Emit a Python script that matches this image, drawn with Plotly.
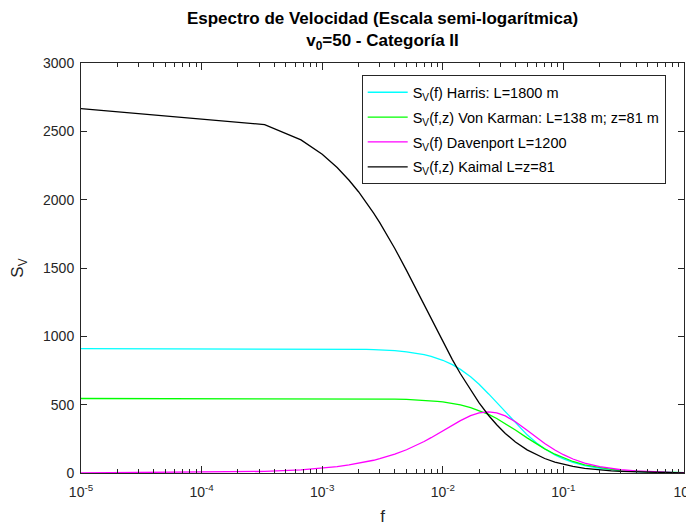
import plotly.graph_objects as go

# Frequency samples (Hz)
f = [1e-5, 3.33e-4, 6.67e-4, 1.0e-3, 1.33e-3, 1.67e-3, 2.0e-3, 2.33e-3, 2.67e-3, 3.0e-3,
     3.5e-3, 4.0e-3, 5.0e-3, 6.0e-3, 7.0e-3, 8.0e-3, 9.0e-3, 1.0e-2, 1.2e-2, 1.4e-2,
     1.7e-2, 2.0e-2, 2.4e-2, 2.8e-2, 3.3e-2, 4.0e-2, 5.0e-2, 6.0e-2, 7.0e-2, 8.5e-2,
     0.10, 0.12, 0.15, 0.20, 0.25, 0.30, 0.40, 0.50, 0.65, 0.80, 1.00]

harris = [910, 909.9, 909.6, 909.1, 908.3, 907.4, 906.2, 904.9, 903.3, 901.6,
          898.5, 895.1, 887.0, 877.2, 866.0, 853.5, 839.7, 824.9, 792.7, 758.1,
          704.0, 649.0, 578.6, 514.6, 444.3, 364.0, 279.2, 219.7, 177.0, 133.1,
          103.9, 78.1, 54.7, 34.3, 23.8, 17.6, 10.9, 7.5, 4.9, 3.5, 2.4]

von_karman = [545, 545, 544.9, 544.7, 544.5, 544.3, 543.9, 543.6, 543.1, 542.6,
              541.8, 540.8, 538.4, 535.6, 532.3, 528.6, 524.4, 519.8, 509.5, 497.9,
              478.5, 457.3, 428.8, 398.8, 361.3, 314.2, 257.2, 212.0, 176.7, 137.4,
              109.9, 84.2, 59.9, 38.1, 26.6, 19.8, 12.3, 8.5, 5.5, 3.9, 2.7]

davenport = [0.35, 11.7, 23.5, 35.2, 46.8, 58.7, 70.1, 81.5, 93.2, 104.5,
             121.3, 137.9, 170.2, 201.2, 230.7, 258.4, 284.3, 308.2, 350.0, 383.6,
             419.5, 439.7, 447.7, 440.0, 417.4, 375.1, 312.9, 259.4, 216.3, 168.1,
             133.8, 102.4, 72.7, 46.1, 32.1, 23.9, 14.9, 10.3, 6.7, 4.7, 3.3]

kaimal = [2666, 2549, 2437, 2332, 2235, 2142, 2058, 1978, 1902, 1832,
          1733, 1643, 1483, 1347, 1230, 1128, 1039, 961, 830, 726,
          604, 512.5, 420.7, 352.7, 289.5, 227.3, 169.4, 132.0, 106.2, 80.2,
          63.1, 48.0, 34.1, 21.8, 15.3, 11.4, 7.2, 5.0, 3.3, 2.3, 1.6]

series_names = [
    "S<sub>V</sub>(f) Harris: L=1800 m",
    "S<sub>V</sub>(f,z) Von Karman: L=138 m; z=81 m",
    "S<sub>V</sub>(f) Davenport L=1200",
    "S<sub>V</sub>(f,z) Kaimal L=z=81",
]
series_values = [harris, von_karman, davenport, kaimal]
series_colors = ["#00FFFF", "#00FF00", "#FF00FF", "#000000"]

x_tick_vals = [1e-5, 1e-4, 1e-3, 1e-2, 1e-1, 1e0]
x_tick_text = ["10<sup>-5</sup>", "10<sup>-4</sup>", "10<sup>-3</sup>",
               "10<sup>-2</sup>", "10<sup>-1</sup>", "10<sup>0</sup>"]
y_tick_vals = [0, 500, 1000, 1500, 2000, 2500, 3000]

AX = "#262626"
FONT = "Liberation Sans, Arial, sans-serif"

fig = go.Figure()
for i, (name, vals, col) in enumerate(zip(series_names, series_values, series_colors)):
    fig.add_trace(go.Scatter(x=f, y=vals, mode="lines", name=name,
                             legendgroup=f"g{i}",
                             line=dict(color=col, width=1.3)))

# the page body has an 8px margin, so the figure is sized to fit the window
fig.update_layout(
    width=686, height=518,
    margin=dict(l=73, r=10, t=55, b=53, autoexpand=False),
    paper_bgcolor="white", plot_bgcolor="white",
    font=dict(family=FONT, size=14, color=AX),
    title=dict(
        text="<b>Espectro de Velocidad (Escala semi-logarítmica)</b><br><b>v<sub>0</sub>=50 - Categoría II</b>",
        x=0.5, xref="paper", xanchor="center",
        y=1 - 16 / 518, yref="container", yanchor="top",
        font=dict(family=FONT, size=17, color="black"),
    ),
    showlegend=True,
    legend=dict(
        x=0.4655, y=0.970, xanchor="left", yanchor="top",
        bgcolor="white", bordercolor=AX, borderwidth=1,
        font=dict(family=FONT, size=14.5, color="black"),
        itemwidth=40, tracegroupgap=3,
    ),
)

fig.update_xaxes(
    type="log", range=[-5, 0], automargin=False,
    tickmode="array", tickvals=x_tick_vals, ticktext=x_tick_text,
    ticks="inside", ticklen=7, tickcolor=AX, tickwidth=1,
    showline=True, linecolor=AX, linewidth=1, mirror="ticks",
    showgrid=False, zeroline=False,
    minor=dict(ticks="inside", ticklen=4, tickcolor=AX, dtick="D1", showgrid=False),
    tickfont=dict(size=14, color=AX), ticklabelstandoff=6,
    ticklabeloverflow="allow",
    title=dict(text="f", font=dict(size=17, color=AX), standoff=12),
)
fig.update_yaxes(
    range=[0, 3000], automargin=False,
    tickmode="array", tickvals=y_tick_vals,
    ticks="inside", ticklen=6, tickcolor=AX, tickwidth=1,
    showline=True, linecolor=AX, linewidth=1, mirror="ticks",
    showgrid=False, zeroline=False,
    tickfont=dict(size=14, color=AX), ticklabelstandoff=3,
    title=dict(text="S<sub>V</sub>", font=dict(size=17, color=AX), standoff=18),
)

fig.write_html("out.html")
